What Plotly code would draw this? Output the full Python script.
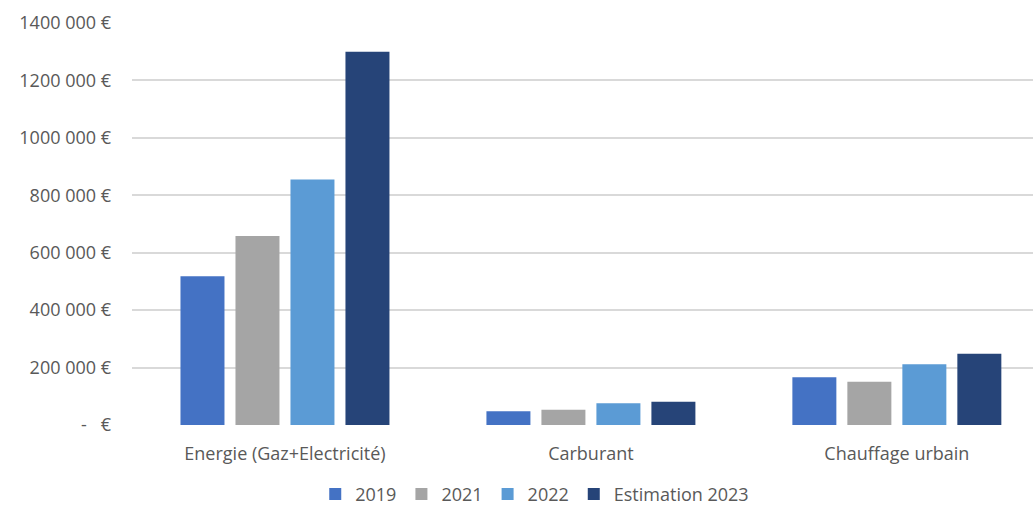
import plotly.graph_objects as go

# Budget categories and yearly amounts (EUR)
categories = ["Energie (Gaz+Electricité)", "Carburant", "Chauffage urbain"]
series_names = ["2019", "2021", "2022", "Estimation 2023"]
values_2019 = [518000, 48000, 166000]
values_2021 = [658000, 53000, 151000]
values_2022 = [855000, 76000, 212000]
values_2023 = [1300000, 81000, 248000]
series_colors = ["#4472C4", "#A5A5A5", "#5B9BD5", "#264478"]

tick_values = [0, 200000, 400000, 600000, 800000, 1000000, 1200000, 1400000]
tick_labels = ["-   €", "200 000 €", "400 000 €", "600 000 €", "800 000 €",
               "1000 000 €", "1200 000 €", "1400 000 €"]

FONT = "'Open Sans', sans-serif"
TEXT_COLOR = "#595959"

fig = go.Figure()
for name, vals, color in zip(series_names,
                             [values_2019, values_2021, values_2022, values_2023],
                             series_colors):
    fig.add_trace(go.Bar(x=categories, y=vals, name=name,
                         marker=dict(color=color, line=dict(width=0))))

fig.update_layout(
    width=1033, height=508,
    margin=dict(l=132, r=0, t=23, b=83, autoexpand=False),
    paper_bgcolor="white", plot_bgcolor="white",
    barmode="group", bargap=0.281, bargroupgap=0.2,
    font=dict(family=FONT, size=18, color=TEXT_COLOR),
    showlegend=True,
    legend=dict(orientation="h", x=0.447, xanchor="center",
                yref="container", y=0.027, yanchor="middle",
                font=dict(size=18, color=TEXT_COLOR), itemwidth=30,
                tracegroupgap=0, traceorder="normal"),
    xaxis=dict(range=[-0.5, 2.445], showgrid=False, zeroline=False, showline=False,
               automargin=False, ticks="", ticklabelstandoff=16,
               tickfont=dict(size=18, color=TEXT_COLOR)),
    yaxis=dict(range=[0, 1400000], tickvals=tick_values, ticktext=tick_labels,
               showgrid=True, gridcolor="#D9D9D9", gridwidth=1.5, zeroline=False,
               showline=False, automargin=False, ticks="", ticklabelstandoff=20,
               tickfont=dict(size=18, color=TEXT_COLOR)),
)

fig.write_html("out.html")
